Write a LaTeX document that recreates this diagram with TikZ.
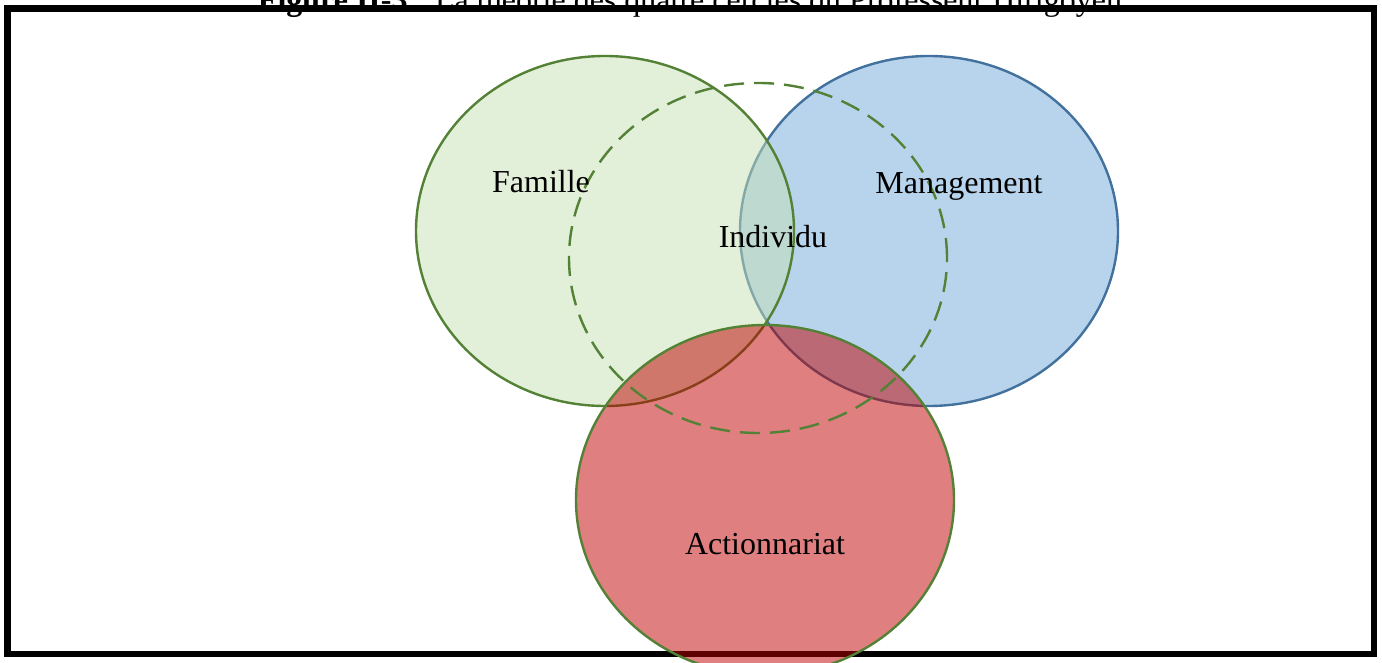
\documentclass[tikz,border=0pt]{standalone}
\usepackage{fontspec}
\setmainfont{Liberation Serif}
\usepackage{xcolor}
\usetikzlibrary{shapes.geometric}
\definecolor{vertTrait}{RGB}{83,129,53}
\definecolor{vertFond}{RGB}{197,223,179}
\definecolor{bleuTrait}{RGB}{65,113,156}
\definecolor{bleuFond}{RGB}{184,212,236}
\definecolor{rougeFond}{RGB}{191,0,0}
\tikzstyle{cercle} = [ellipse, inner sep=0pt, line width=1.2pt, minimum width=189pt, minimum height=175pt]
\tikzstyle{pointille} = [dash pattern=on 10pt off 5pt]
\tikzstyle{etiquette} = [anchor=base, font=\fontsize{16}{19}\selectfont]
\begin{document}
\begin{tikzpicture}[x=0.5pt, y=-0.5pt]
\useasboundingbox (0,0) rectangle (1382,663);

\node (titre) [etiquette] at (690,11) {\textbf{Figure II-3} : La théorie des quatre cercles du Professeur Hirigoyen};
\draw[line width=3.25pt] (7.5,8.5) rectangle (1374,654);

\node (management) [cercle, draw=bleuTrait, fill=bleuFond] at (929,231) {};
\node (famille) [cercle, draw=vertTrait, fill=vertFond, fill opacity=0.5] at (605,231) {};
\node (actionnariat) [cercle, draw=vertTrait, fill=rougeFond, fill opacity=0.5] at (765,500) {};
\node (individu) [cercle, pointille, draw=vertTrait] at (758,258) {};

\node (lFamille) [etiquette] at (541,193) {Famille};
\node (lManagement) [etiquette] at (959,194) {Management};
\node (lIndividu) [etiquette] at (773,248) {Individu};
\node (lActionnariat) [etiquette] at (765,554) {Actionnariat};

\end{tikzpicture}
\end{document}
